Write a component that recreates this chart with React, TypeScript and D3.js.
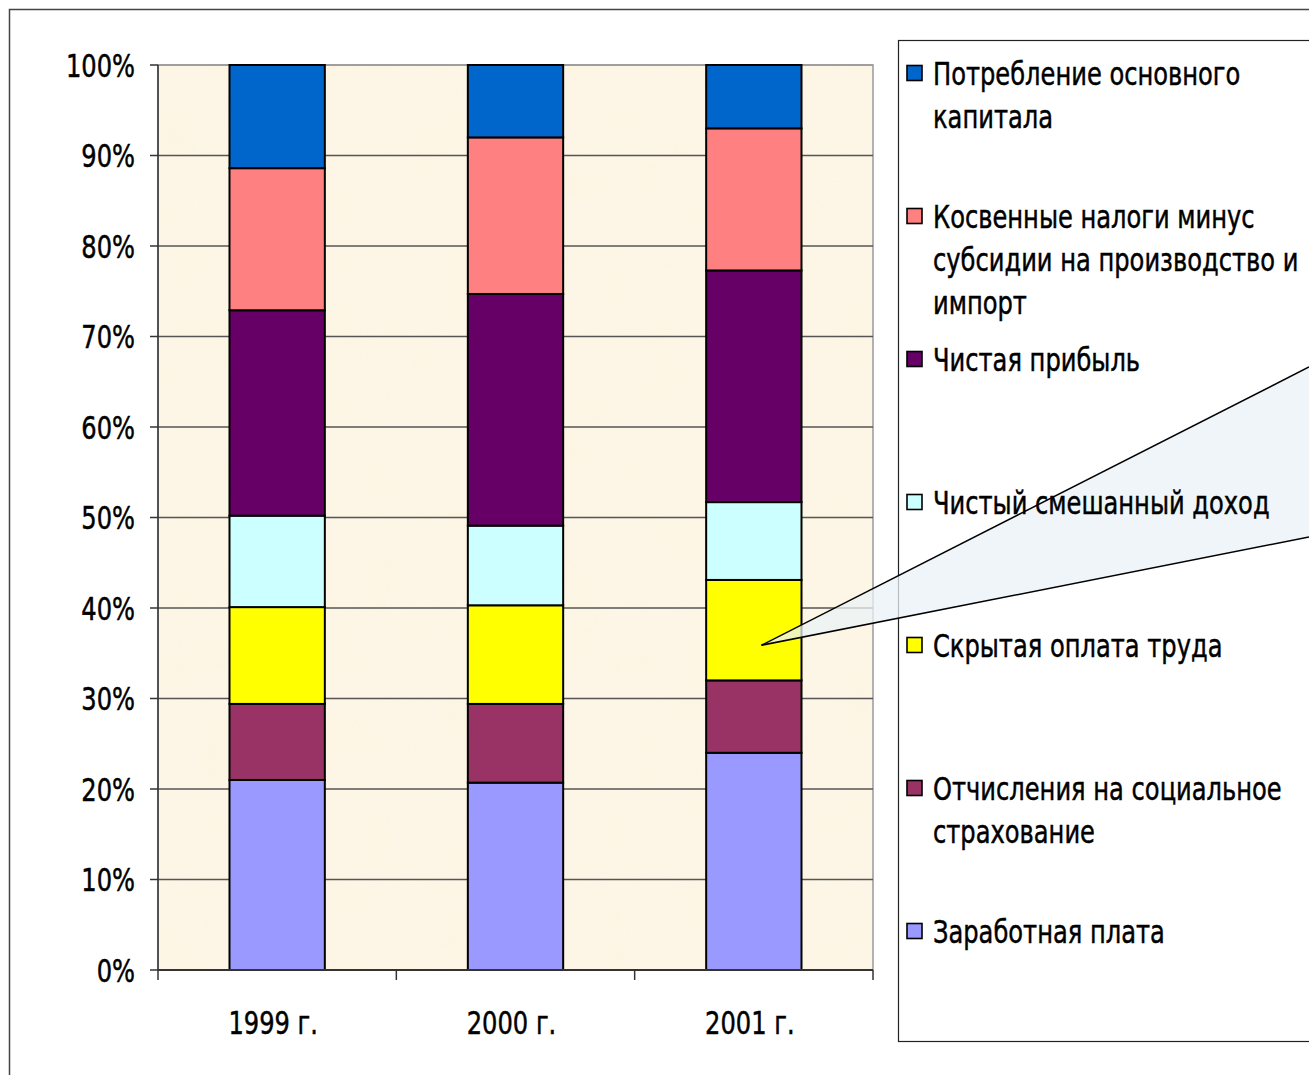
import React from "react";
import * as d3 from "d3";

// ---- data ----
const categories = ["1999 г.", "2000 г.", "2001 г."];
const wage = [21.0, 20.7, 24.0];
const social = [8.4, 8.7, 8.0];
const hidden = [10.7, 10.9, 11.1];
const mixed = [10.1, 8.8, 8.6];
const profit = [22.7, 25.6, 25.6];
const taxes = [15.7, 17.3, 15.7];
const capital = [11.4, 8.0, 7.0];

const seriesKeys = ["wage", "social", "hidden", "mixed", "profit", "taxes", "capital"];
const seriesValues: Record<string, number[]> = { wage, social, hidden, mixed, profit, taxes, capital };
const seriesColors: Record<string, string> = {
  capital: "#0066CC",
  taxes: "#FF8080",
  profit: "#660066",
  mixed: "#CCFFFF",
  hidden: "#FFFF00",
  social: "#993366",
  wage: "#9999FF",
};
const legendOrder = ["capital", "taxes", "profit", "mixed", "hidden", "social", "wage"];
const legendLabels: Record<string, string[]> = {
  capital: ["Потребление основного", "капитала"],
  taxes: ["Косвенные налоги минус", "субсидии на производство и", "импорт"],
  profit: ["Чистая прибыль"],
  mixed: ["Чистый смешанный доход"],
  hidden: ["Скрытая оплата труда"],
  social: ["Отчисления на социальное", "страхование"],
  wage: ["Заработная плата"],
};
const yTicks = [0, 10, 20, 30, 40, 50, 60, 70, 80, 90, 100];

// ---- layout ----
const W = 1309;
const H = 1075;
const plot = { left: 158, right: 873, top: 65, bottom: 970 };
const FONT = "'DejaVu Sans', Verdana, sans-serif";
const FS = 32;
const SQUEEZE = 0.755;

export default function App() {
  const x = d3
    .scaleBand<string>()
    .domain(categories)
    .range([plot.left, plot.right])
    .paddingInner(0.6)
    .paddingOuter(0.3);
  const y = d3.scaleLinear().domain([0, 100]).range([plot.bottom, plot.top]);

  const rows = categories.map((c, i) => {
    const r: any = { cat: c };
    seriesKeys.forEach((k) => (r[k] = seriesValues[k][i]));
    return r;
  });
  const stacked = d3.stack<any>().keys(seriesKeys)(rows);

  const step = x.step();
  const boundaries = [0, 1, 2, 3].map((i) => plot.left + i * step);

  // callout wedge pointing at the 2001 hidden-wage segment
  const hiddenLayer = stacked.find((s) => s.key === "hidden")!;
  const seg = hiddenLayer[2];
  const tipX = (x(categories[2]) as number) + x.bandwidth() * 0.58;
  const tipY = y(seg[0] + (seg[1] - seg[0]) * 0.35);
  const wedgeTop = { x: W, y: 367 };
  const wedgeBot = { x: W, y: 537 };

  const legendX = 898;
  const legendTop = 40;
  const itemStart = 73;
  const itemStep = 143;
  const lineH = 43.3;

  const txt = (
    key: string,
    tx: number,
    ty: number,
    s: string,
    anchor: "start" | "middle" | "end" = "start"
  ) => (
    <text
      key={key}
      transform={`translate(${tx},${ty}) scale(${SQUEEZE},1)`}
      textAnchor={anchor}
      dy="0.36em"
      fontFamily={FONT}
      fontSize={FS}
      fill="#000"
      stroke="#000"
      strokeWidth={0.5}
    >
      {s}
    </text>
  );

  return (
    <svg
      width={W}
      height={H}
      style={{ position: "absolute", left: 0, top: 0, background: "#fff" }}
    >
      <defs>
        <filter id="paper" x="0" y="0" width="100%" height="100%">
          <feTurbulence type="fractalNoise" baseFrequency="0.025" numOctaves="3" seed="4" />
          <feColorMatrix
            type="matrix"
            values="0 0 0 0 0.96  0 0 0 0 0.88  0 0 0 0 0.70  0.8 0 0 0 -0.3"
          />
        </filter>
      </defs>

      {/* outer frame */}
      <rect x={9.5} y={9.5} width={1400} height={1200} fill="#fff" stroke="#444" strokeWidth={1.5} />

      {/* plot background */}
      <rect
        x={plot.left}
        y={plot.top}
        width={plot.right - plot.left}
        height={plot.bottom - plot.top}
        fill="#FDF6E6"
      />
      <rect
        x={plot.left}
        y={plot.top}
        width={plot.right - plot.left}
        height={plot.bottom - plot.top}
        filter="url(#paper)"
        opacity={0.45}
      />
      <rect
        x={plot.left}
        y={plot.top}
        width={plot.right - plot.left}
        height={plot.bottom - plot.top}
        fill="none"
        stroke="#999"
        strokeWidth={1.5}
      />

      {/* gridlines */}
      {yTicks.slice(1).map((t) => (
        <line
          key={"g" + t}
          x1={plot.left}
          x2={plot.right}
          y1={y(t)}
          y2={y(t)}
          stroke={t === 100 ? "#999" : "#555"}
          strokeWidth={1.6}
        />
      ))}

      {/* bars */}
      {stacked.map((layer) =>
        layer.map((d, i) => (
          <rect
            key={layer.key + i}
            x={x(categories[i]) as number}
            y={y(d[1])}
            width={x.bandwidth()}
            height={y(d[0]) - y(d[1])}
            fill={seriesColors[layer.key]}
            stroke="#000"
            strokeWidth={2}
          />
        ))
      )}

      {/* axes */}
      <line x1={plot.left} x2={plot.left} y1={plot.top} y2={plot.bottom} stroke="#333" strokeWidth={1.5} />
      <line x1={plot.left} x2={plot.right} y1={plot.bottom} y2={plot.bottom} stroke="#333" strokeWidth={1.8} />
      {yTicks.map((t) => (
        <g key={"yt" + t}>
          <line x1={plot.left - 8} x2={plot.left} y1={y(t)} y2={y(t)} stroke="#333" strokeWidth={1.5} />
          {txt("yl" + t, 135, y(t), `${t}%`, "end")}
        </g>
      ))}
      {boundaries.map((bx, i) => (
        <line key={"xt" + i} x1={bx} x2={bx} y1={plot.bottom} y2={plot.bottom + 10} stroke="#333" strokeWidth={1.5} />
      ))}
      {categories.map((c) =>
        txt("xl" + c, (x(c) as number) + x.bandwidth() / 2 - 4, 1022, c, "middle")
      )}

      {/* legend box */}
      <rect x={legendX + 0.5} y={legendTop + 0.5} width={500} height={1001} fill="#fff" stroke="#222" strokeWidth={1.2} />

      {/* callout fill */}
      <polygon
        points={`${tipX},${tipY} ${wedgeTop.x},${wedgeTop.y} ${wedgeBot.x},${wedgeBot.y}`}
        fill="#E9F1F6"
        opacity={0.75}
      />

      {/* legend items */}
      {legendOrder.map((k, i) => {
        const cy = itemStart + i * itemStep;
        return (
          <g key={"lg" + k}>
            <rect x={907} y={cy - 7.5} width={15} height={15} fill={seriesColors[k]} stroke="#000" strokeWidth={1.6} />
            {legendLabels[k].map((line, j) => txt("lt" + k + j, 933, cy + j * lineH, line))}
          </g>
        );
      })}

      {/* callout edges */}
      <line x1={tipX} y1={tipY} x2={wedgeTop.x} y2={wedgeTop.y} stroke="#000" strokeWidth={1.5} />
      <line x1={tipX} y1={tipY} x2={wedgeBot.x} y2={wedgeBot.y} stroke="#000" strokeWidth={1.5} />
    </svg>
  );
}
